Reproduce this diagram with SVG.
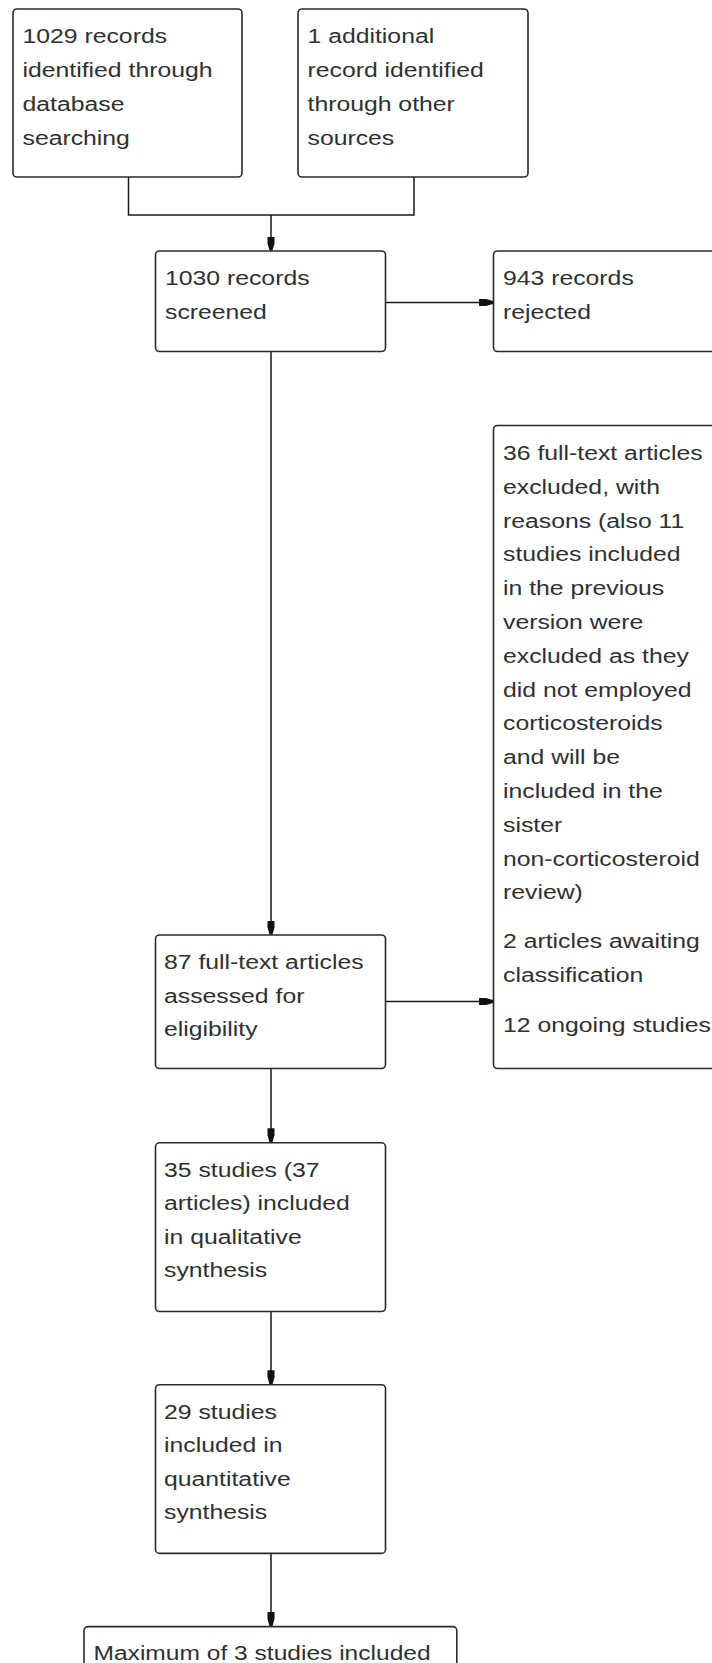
<svg xmlns="http://www.w3.org/2000/svg" width="712" height="1663" viewBox="0 0 712 1663">
<style>
.box{fill:#fff;stroke:#2a2a2a;stroke-width:1.6}
.t{font-family:"Liberation Sans",Arial,sans-serif;font-size:21px;fill:#303030}
.c{fill:none;stroke:#1a1a1a;stroke-width:1.5}
</style>
<defs>
<marker id="ah" viewBox="0 0 14 8" refX="14" refY="4" markerWidth="14" markerHeight="8" markerUnits="userSpaceOnUse" orient="auto">
<path d="M0,0.5 L7,0.5 L14,2.5 L14,5.5 L7,7.5 L0,7.5 Z" fill="#111"/>
</marker>
</defs>
<rect width="712" height="1663" fill="#fff"/>
<g id="connectors">
<path class="c" d="M128.5,177 V215 H414 V177"/>
<path class="c" d="M271,215 V250.5" marker-end="url(#ah)"/>
<path class="c" d="M385.5,302.5 H493" marker-end="url(#ah)"/>
<path class="c" d="M271,351.5 V934.5" marker-end="url(#ah)"/>
<path class="c" d="M385.5,1001.5 H493" marker-end="url(#ah)"/>
<path class="c" d="M271,1068.5 V1142.3" marker-end="url(#ah)"/>
<path class="c" d="M271,1311.5 V1384.2" marker-end="url(#ah)"/>
<path class="c" d="M271,1553.4 V1626.1" marker-end="url(#ah)"/>
</g>
<g id="n1">
<rect class="box" x="13" y="9" width="229" height="168" rx="4"/>
<text class="t" transform="translate(22.5,0) scale(1.18,1)"><tspan x="0" y="43.5">1029 records</tspan><tspan x="0" y="77.3">identified through</tspan><tspan x="0" y="111.2">database</tspan><tspan x="0" y="145">searching</tspan></text>
</g>
<g id="n2">
<rect class="box" x="298" y="9" width="230" height="168" rx="4"/>
<text class="t" transform="translate(307.5,0) scale(1.18,1)"><tspan x="0" y="43.5">1 additional</tspan><tspan x="0" y="77.3">record identified</tspan><tspan x="0" y="111.2">through other</tspan><tspan x="0" y="145">sources</tspan></text>
</g>
<g id="n3">
<rect class="box" x="155.5" y="251" width="230" height="100.5" rx="4"/>
<text class="t" transform="translate(165,0) scale(1.18,1)"><tspan x="0" y="285.5">1030 records</tspan><tspan x="0" y="319">screened</tspan></text>
</g>
<g id="n4">
<rect class="box" x="493.5" y="251" width="230" height="100.5" rx="4"/>
<text class="t" transform="translate(503,0) scale(1.18,1)"><tspan x="0" y="285.5">943 records</tspan><tspan x="0" y="319">rejected</tspan></text>
</g>
<g id="n5">
<rect class="box" x="493.5" y="425.5" width="230" height="643" rx="4"/>
<text class="t" transform="translate(503,0) scale(1.18,1)"><tspan x="0" y="460">36 full-text articles</tspan><tspan x="0" y="493.8">excluded, with</tspan><tspan x="0" y="527.6">reasons (also 11</tspan><tspan x="0" y="561.4">studies included</tspan><tspan x="0" y="595.2">in the previous</tspan><tspan x="0" y="629">version were</tspan><tspan x="0" y="662.8">excluded as they</tspan><tspan x="0" y="696.6">did not employed</tspan><tspan x="0" y="730.4">corticosteroids</tspan><tspan x="0" y="764.2">and will be</tspan><tspan x="0" y="798">included in the</tspan><tspan x="0" y="831.8">sister</tspan><tspan x="0" y="865.6">non-corticosteroid</tspan><tspan x="0" y="899.4">review)</tspan><tspan x="0" y="948.3">2 articles awaiting</tspan><tspan x="0" y="982">classification</tspan><tspan x="0" y="1032">12 ongoing studies</tspan></text>
</g>
<g id="n6">
<rect class="box" x="155.5" y="935" width="230" height="133.5" rx="4"/>
<text class="t" transform="translate(164,0) scale(1.18,1)"><tspan x="0" y="969.5">87 full-text articles</tspan><tspan x="0" y="1003">assessed for</tspan><tspan x="0" y="1036.5">eligibility</tspan></text>
</g>
<g id="n7">
<rect class="box" x="155.5" y="1142.8" width="230" height="168.7" rx="4"/>
<text class="t" transform="translate(164,0) scale(1.18,1)"><tspan x="0" y="1177">35 studies (37</tspan><tspan x="0" y="1210.4">articles) included</tspan><tspan x="0" y="1243.8">in qualitative</tspan><tspan x="0" y="1277.2">synthesis</tspan></text>
</g>
<g id="n8">
<rect class="box" x="155.5" y="1384.7" width="230" height="168.7" rx="4"/>
<text class="t" transform="translate(164,0) scale(1.18,1)"><tspan x="0" y="1418.8">29 studies</tspan><tspan x="0" y="1452.2">included in</tspan><tspan x="0" y="1485.6">quantitative</tspan><tspan x="0" y="1519">synthesis</tspan></text>
</g>
<g id="n9">
<rect class="box" x="84" y="1626.6" width="372.8" height="80" rx="4"/>
<text class="t" transform="translate(93.5,0) scale(1.17,1)"><tspan x="0" y="1660.5">Maximum of 3 studies included</tspan></text>
</g>
</svg>
